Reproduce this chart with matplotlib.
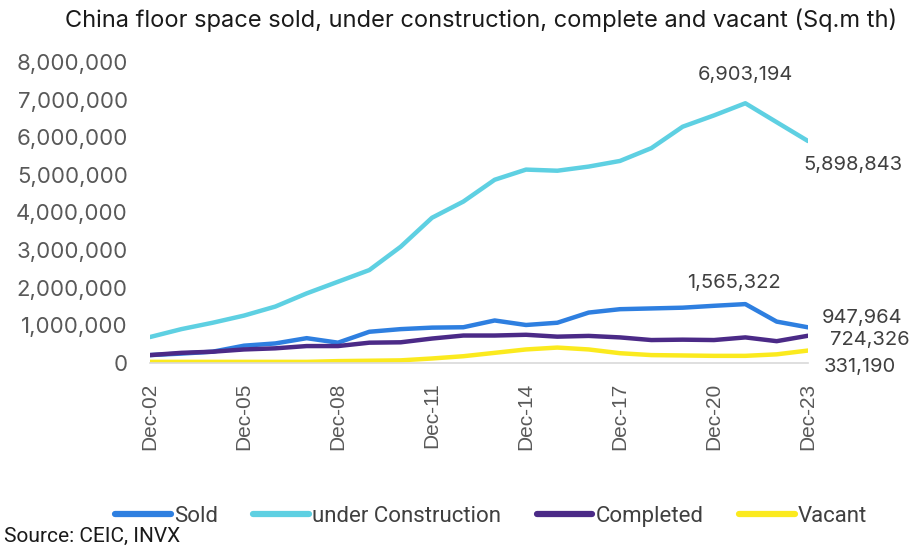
import matplotlib
matplotlib.use('Agg')
import matplotlib.pyplot as plt
import numpy as np

plt.rcParams['font.family'] = ['Inter', 'DejaVu Sans']

# data, Sq.m th, Dec-02 .. Dec-23
years = list(range(2002, 2024))
sold = [210000, 250000, 300000, 460000, 520000, 660000, 540000, 830000, 900000, 940000,
        950000, 1130000, 1010000, 1070000, 1340000, 1430000, 1450000, 1470000, 1520000,
        1565322, 1100000, 947964]
under_construction = [690000, 900000, 1070000, 1260000, 1500000, 1850000, 2160000, 2470000,
                      3090000, 3860000, 4290000, 4870000, 5140000, 5110000, 5220000, 5370000,
                      5710000, 6280000, 6580000, 6903194, 6400000, 5898843]
completed = [210000, 270000, 300000, 360000, 390000, 450000, 450000, 540000, 550000, 650000,
             730000, 730000, 750000, 700000, 720000, 680000, 610000, 620000, 610000,
             680000, 580000, 724326]
vacant = [30000, 30000, 30000, 30000, 30000, 30000, 50000, 60000, 70000, 120000, 180000,
          270000, 360000, 410000, 360000, 260000, 210000, 200000, 190000, 190000, 230000,
          331190]
labels = ['Dec-%02d' % (y % 100) for y in years]

c_sold = '#2E7FE0'
c_uc = '#5ED0E2'
c_comp = '#4B2A87'
c_vac = '#FBEA1E'
txt = '#404040'

fig = plt.figure(figsize=(9.13, 5.48), dpi=100)
ax = fig.add_axes([0.1643, 0.3376, 0.7207, 0.5493])
x = np.arange(len(years))

ax.plot(x, sold, color=c_sold, lw=3.2, label='Sold', solid_capstyle='round')
ax.plot(x, under_construction, color=c_uc, lw=3.2, label='under Construction', solid_capstyle='round')
ax.plot(x, completed, color=c_comp, lw=3.2, label='Completed', solid_capstyle='round')
ax.plot(x, vacant, color=c_vac, lw=3.2, label='Vacant', solid_capstyle='round')

ax.set_xlim(0, len(years) - 1)
ax.set_ylim(0, 8000000)
ax.set_yticks(np.arange(0, 8000001, 1000000))
ax.set_yticklabels(['{:,}'.format(v) for v in range(0, 8000001, 1000000)],
                   fontsize=16, color='#595959')
ax.set_xticks(x[::3])
ax.set_xticklabels(labels[::3], rotation=90, fontsize=15, color='#595959',
                   family='Liberation Sans')
ax.tick_params(axis='both', length=0)
ax.tick_params(axis='y', pad=16)
ax.tick_params(axis='x', pad=14)
for s in ['top', 'right', 'left']:
    ax.spines[s].set_visible(False)
ax.spines['bottom'].set_color('#D9D9D9')
ax.spines['bottom'].set_linewidth(1.2)

# data labels
lab_kw = dict(textcoords='offset points', fontsize=14.5, color=txt, annotation_clip=False)
ipk = 19
ax.annotate('{:,}'.format(under_construction[ipk]), (ipk, under_construction[ipk]),
            xytext=(0, 14), ha='center', va='bottom', **lab_kw)
ax.annotate('{:,}'.format(sold[ipk]), (ipk, sold[ipk]),
            xytext=(-8, 9), ha='center', va='bottom', **lab_kw)
last = len(years) - 1
ax.annotate('{:,}'.format(under_construction[last]), (last, under_construction[last]),
            xytext=(-3, -11), ha='left', va='top', **lab_kw)
ax.annotate('{:,}'.format(sold[last]), (last, sold[last]),
            xytext=(10, 7), ha='left', va='center', **lab_kw)
ax.annotate('{:,}'.format(completed[last]), (last, completed[last]),
            xytext=(16, -3), ha='left', va='center', **lab_kw)
ax.annotate('{:,}'.format(vacant[last]), (last, vacant[last]),
            xytext=(11, -12), ha='left', va='center', **lab_kw)

fig.text(0.527, 0.963, 'China floor space sold, under construction, complete and vacant (Sq.m th)',
         ha='center', va='center', fontsize=17, color='#1a1a1a')

leg = fig.legend(loc='center', bbox_to_anchor=(0.538, 0.058), ncol=4, frameon=False,
                 prop={'family': 'Roboto', 'size': 16}, handlelength=2.5,
                 handletextpad=0.15, columnspacing=1.6, labelcolor=txt)
for h in leg.get_lines():
    h.set_linewidth(4.5)

fig.text(0.004, 0.004, 'Source: CEIC, INVX', ha='left', va='bottom', fontsize=15,
         color='#1a1a1a', family='Roboto')

fig.savefig('out.png', dpi=100)
